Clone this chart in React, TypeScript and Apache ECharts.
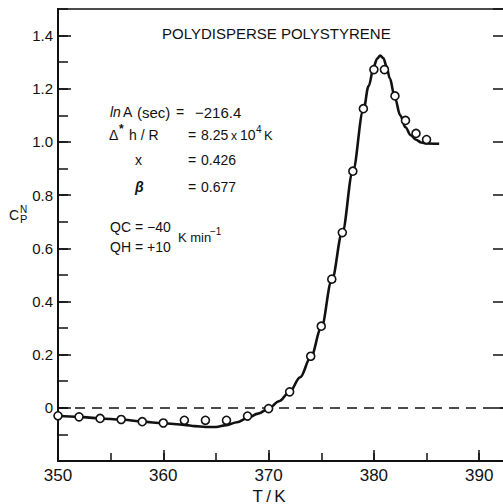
import React, { useEffect, useRef } from 'react';
import * as echarts from 'echarts';

// Fitted model curve
const curveT = [350, 352, 354, 356, 358, 360, 362, 363, 364, 365, 366, 367, 368, 369, 370, 371, 372, 373, 374, 375, 376, 377, 378, 379, 379.5, 380, 380.3, 380.6, 380.9, 381.2, 381.5, 382, 382.5, 383, 383.5, 384, 384.5, 385, 386.2];
const curveCp = [-0.03, -0.034, -0.04, -0.044, -0.052, -0.058, -0.064, -0.069, -0.072, -0.072, -0.065, -0.054, -0.038, -0.022, -0.003, 0.025, 0.06, 0.115, 0.19, 0.3, 0.48, 0.66, 0.89, 1.12, 1.21, 1.285, 1.313, 1.325, 1.315, 1.285, 1.24, 1.165, 1.1, 1.055, 1.025, 1.008, 0.998, 0.994, 0.993];

// Measured data (open circles)
const pointT = [350, 352, 354, 356, 358, 360, 362, 364, 366, 368, 370, 372, 374, 375, 376, 377, 378, 379, 380, 381, 382, 383, 384, 385];
const pointCp = [-0.03, -0.034, -0.04, -0.044, -0.052, -0.057, -0.047, -0.047, -0.047, -0.031, -0.003, 0.06, 0.194, 0.307, 0.484, 0.659, 0.89, 1.125, 1.272, 1.272, 1.173, 1.081, 1.032, 1.009];

const xMin = 350;
const xMax = 392.45;
const yMin = -0.2;
const yMax = 1.5;

const FONT = '"Liberation Sans", Arial, Helvetica, sans-serif';
const INK = '#111';

const txt = (x: number, y: number, text: string, size = 14, extra: any = {}) => ({
  type: 'text',
  x,
  y,
  silent: true,
  style: {
    text,
    fontSize: size,
    fontFamily: FONT,
    fill: INK,
    align: 'left',
    verticalAlign: 'middle',
    ...extra,
  },
});

export default function App() {
  const ref = useRef<HTMLDivElement>(null);

  useEffect(() => {
    if (!ref.current) return;
    const chart = echarts.init(ref.current, undefined, { renderer: 'svg' });

    const curve = curveT.map((t, i) => [t, curveCp[i]]);
    const points = pointT.map((t, i) => [t, pointCp[i]]);

    const tickStyle = { color: INK, width: 1.5 };

    chart.setOption({
      animation: false,
      backgroundColor: '#fff',
      grid: {
        left: 58,
        right: 15,
        top: 9,
        bottom: 43,
        show: true,
        borderColor: INK,
        borderWidth: 1.5,
        backgroundColor: 'transparent',
      },
      xAxis: [
        {
          type: 'value',
          position: 'bottom',
          min: xMin,
          max: xMax,
          interval: 10,
          axisLine: { onZero: false, lineStyle: { color: INK, width: 2 } },
          axisTick: { inside: true, length: 11, lineStyle: tickStyle },
          axisLabel: {
            color: INK,
            fontSize: 17,
            fontFamily: FONT,
            margin: 6,
            showMaxLabel: false,
            formatter: (v: number) => (Math.abs(v % 10) < 1e-6 ? String(v) : ''),
          },
          splitLine: { show: false },
        },
        {
          type: 'value',
          position: 'bottom',
          min: xMin,
          max: xMax,
          interval: 5,
          axisLine: { onZero: false, lineStyle: { color: INK, width: 2 } },
          axisTick: { inside: true, length: 8, lineStyle: tickStyle },
          axisLabel: { show: false },
          splitLine: { show: false },
        },
      ],
      yAxis: [
        {
          type: 'value',
          position: 'left',
          min: yMin,
          max: yMax,
          interval: 0.2,
          axisLine: { onZero: false, lineStyle: { color: INK, width: 1.8 } },
          axisTick: { inside: true, length: 13, lineStyle: tickStyle },
          axisLabel: {
            color: INK,
            fontSize: 15,
            fontFamily: FONT,
            margin: 5,
            showMaxLabel: false,
            showMinLabel: false,
            formatter: (v: number) => (Math.abs(v) < 1e-9 ? '0' : v.toFixed(1)),
          },
          splitLine: { show: false },
        },
        {
          type: 'value',
          position: 'left',
          min: yMin,
          max: yMax,
          interval: 0.1,
          axisLine: { onZero: false, lineStyle: { color: INK, width: 1.8 } },
          axisTick: { inside: true, length: 10, lineStyle: tickStyle },
          axisLabel: { show: false },
          splitLine: { show: false },
        },
        {
          type: 'value',
          position: 'right',
          min: yMin,
          max: yMax,
          interval: 0.2,
          axisLine: { onZero: false, lineStyle: { color: INK, width: 1.8 } },
          axisTick: { inside: true, length: 12, lineStyle: tickStyle },
          axisLabel: { show: false },
          splitLine: { show: false },
        },
      ],
      series: [
        {
          type: 'line',
          name: 'model',
          data: curve,
          xAxisIndex: 0,
          yAxisIndex: 0,
          smooth: 0.35,
          smoothMonotone: 'x',
          showSymbol: false,
          symbol: 'none',
          lineStyle: { color: INK, width: 2.6 },
          z: 3,
          markLine: {
            silent: true,
            symbol: ['none', 'none'],
            label: { show: false },
            lineStyle: { color: INK, width: 1.5, type: [10, 7] },
            data: [{ yAxis: 0 }],
          },
        },
        {
          type: 'scatter',
          name: 'data',
          data: points,
          xAxisIndex: 0,
          yAxisIndex: 0,
          symbol: 'circle',
          symbolSize: 8,
          itemStyle: { color: '#fff', borderColor: INK, borderWidth: 1.6, opacity: 1 },
          z: 5,
        },
      ],
      graphic: [
        txt(162, 33, 'POLYDISPERSE POLYSTYRENE', 15),
        // ln A (sec) = -216.4
        txt(110, 112, 'ln', 14, { fontStyle: 'italic' }),
        txt(123, 112, 'A', 14),
        txt(137, 112, '(sec)', 15),
        txt(176, 112, '=', 14),
        txt(195, 112, '\u2212216.4', 15),
        // Δ* h / R = 8.25 x 10^4 K
        txt(109, 135, '\u0394', 14),
        txt(119, 129, '*', 12, { fontWeight: 'bold' }),
        txt(129, 135, 'h / R', 14),
        txt(188, 135, '=', 14),
        txt(201, 135, '8.25', 14),
        txt(231, 136, 'x', 12),
        txt(240, 135, '10', 14),
        txt(256, 129, '4', 10),
        txt(264, 135, 'K', 13),
        // x = 0.426
        txt(135, 160, 'x', 14),
        txt(188, 160, '=', 14),
        txt(201, 160, '0.426', 14),
        // beta = 0.677
        txt(135, 187, '\u03B2', 14, { fontStyle: 'italic', fontWeight: 'bold' }),
        txt(188, 187, '=', 14),
        txt(201, 187, '0.677', 14),
        // rates
        txt(110, 227, 'QC = \u221240', 14),
        txt(110, 247, 'QH = +10', 14),
        txt(178, 237, 'K min', 13),
        txt(210, 231, '\u22121', 10),
        // y axis label C_P^N
        txt(9, 215, 'C', 14),
        txt(20, 209, 'N', 10),
        txt(20, 219, 'P', 11),
        // x axis label
        txt(269, 496, 'T\u2009/\u2009K', 17, { align: 'center' }),
      ],
    });

    return () => chart.dispose();
  }, []);

  return (
    <div style={{ position: 'fixed', left: 0, top: 0, width: 503, height: 504, overflow: 'hidden', background: '#fff' }}>
      <div ref={ref} style={{ width: 520, height: 504 }} />
    </div>
  );
}
